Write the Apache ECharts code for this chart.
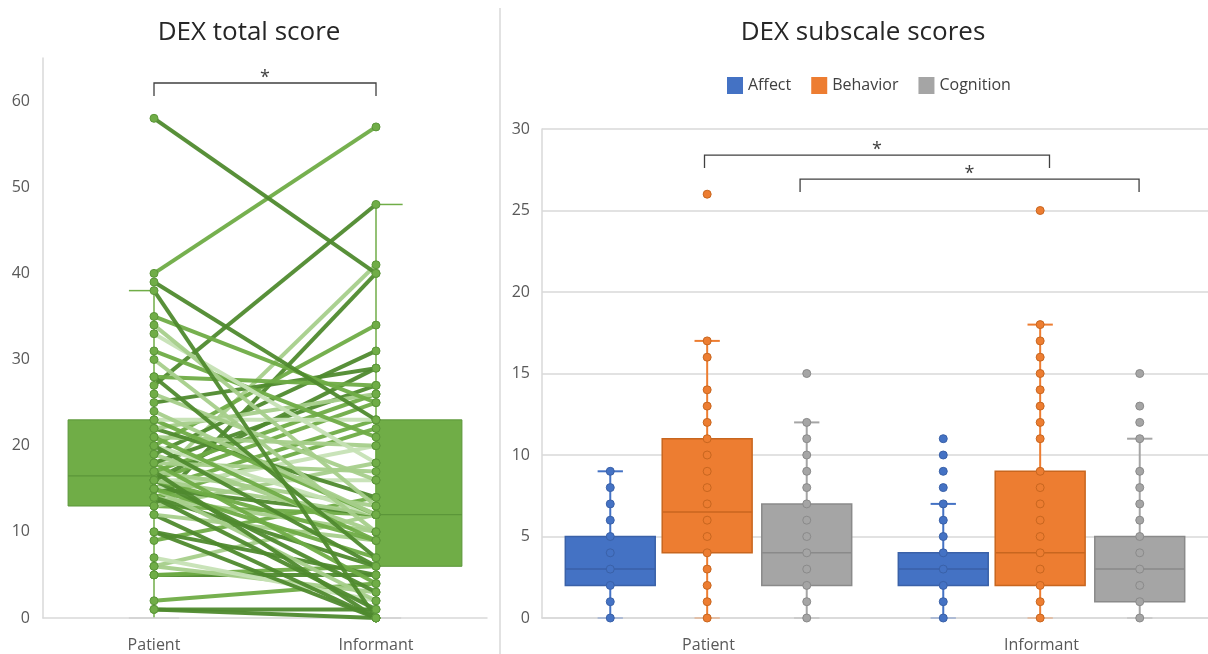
<!DOCTYPE html>
<html><head><meta charset="utf-8">
<script src="https://cdn.jsdelivr.net/npm/echarts@6/dist/echarts.min.js"></script>
<style>html,body{margin:0;padding:0;background:#fff}#c{width:1208px;height:654px}</style>
</head><body><div id="c"></div>
<script>
// ---------- data ----------
const groups = ['Patient', 'Informant'];
const subscales = ['Affect', 'Behavior', 'Cognition'];

// DEX total score, paired by participant
const patientTotal = [1,1,2,5,5,6,6,7,9,10,10,12,12,13,13,13,
  14,14,14,14,15,15,15,15,15,16,16,16,16,16,16,16,
  17,17,17,18,18,18,19,19,20,20,20,21,21,22,22,23,
  23,24,25,26,27,28,28,30,31,33,34,35,38,39,40,58];
const informantTotal = [1,0,4,5,6,3,12,2,14,0,5,0,9,40,12,18,
  1,22,10,6,23,2,12,20,7,41,25,3,16,9,12,29,
  13,0,26,4,17,27,10,31,34,12,6,20,9,14,26,12,
  23,12,29,16,48,27,7,10,21,18,13,25,0,23,57,40];
const lineShade = [0,0,1,0,1,2,2,3,1,0,0,0,2,0,1,2,
  0,1,2,0,1,2,0,3,1,2,1,0,3,1,2,0,
  2,0,1,1,2,0,2,0,1,3,0,2,1,0,2,1,
  3,2,0,2,0,1,0,2,1,3,2,1,0,0,1,0];
// box stats: [min, Q1, median, Q3, max] per group
const totalBoxPatient = [0, 13, 16.5, 23, 38];
const totalBoxInformant = [0, 6, 12, 23, 48];

// subscales box stats [min, Q1, median, Q3, max] (Patient, Informant)
const affectBox = [[0, 2, 3, 5, 9], [0, 2, 3, 4, 7]];
const behaviorBox = [[0, 4, 6.5, 11, 17], [0, 2, 4, 9, 18]];
const cognitionBox = [[0, 2, 4, 7, 12], [0, 1, 3, 5, 11]];
// subscale points
const affectPatient = [0,1,2,3,4,5,6,7,8,9];
const affectInformant = [0,1,2,3,4,5,6,7,8,9,10,11];
const behaviorPatient = [0,1,2,3,4,5,6,7,8,9,10,11,12,13,14,16,17,26];
const behaviorInformant = [0,1,2,3,4,5,6,7,8,9,11,12,13,14,15,16,17,18,25];
const cognitionPatient = [0,1,2,3,4,5,6,7,8,9,10,11,12,15];
const cognitionInformant = [0,1,2,3,4,5,6,7,8,9,11,12,13,15];

// significance brackets: [fromGroup, toGroup, topValue, bottomValue]
const totalBracket = [[0, 1, 62.1, 60.6]];
const subBrackets = [[0, 1, 28.4, 27.6], [0, 1, 26.93, 26.13]];

// ---------- styles / layout ----------
const FONT = '"Open Sans", "Noto Sans", sans-serif';
const GREEN = '#70AD47', GREEN_EDGE = '#5B9639';
const SHADES = ['#4F8A2E', '#6FAC46', '#A6CF8B', '#C6E1B5'];
const SUB_COL = [
  {fill: '#4472C4', edge: '#3A61A8'},
  {fill: '#ED7D31', edge: '#C8661F'},
  {fill: '#A5A5A5', edge: '#8A8A8A'}
];
const SUB_OFF = [-0.295, -0.004, 0.295];
const SUB_W = 0.27, SUB_CAP = 0.076;
const TOT_W = 0.387;
const TOT_CAP = [[-0.113, 0], [-0.02, 0.12]];
const subBracketOff = [[-0.012, 0.024], [0.275, 0.293]];

const chart = echarts.init(document.getElementById('c'));

function totalBoxRender(params, api) {
  const cat = api.value(0);
  const band = api.size([1, 0])[0];
  const cx = api.coord([cat, 0])[0];
  const y = i => api.coord([cat, api.value(i)])[1];
  const ymn = y(1), yq1 = y(2), ymd = y(3), yq3 = y(4), ymx = y(5);
  const w = TOT_W * band;
  const x0 = cat === 0 ? cx - w : cx;
  const cap = TOT_CAP[cat];
  return {type: 'group', children: [
    {type: 'rect', shape: {x: x0, y: yq3, width: w, height: yq1 - yq3}, style: {fill: GREEN, stroke: GREEN_EDGE, lineWidth: 1}},
    {type: 'line', shape: {x1: x0, y1: ymd, x2: x0 + w, y2: ymd}, style: {stroke: GREEN_EDGE, lineWidth: 1.2}},
    {type: 'line', shape: {x1: cx, y1: ymn, x2: cx, y2: ymx}, style: {stroke: GREEN, lineWidth: 1.5}},
    {type: 'line', shape: {x1: cx + cap[0] * band, y1: ymx, x2: cx + cap[1] * band, y2: ymx}, style: {stroke: GREEN, lineWidth: 1.5}},
    {type: 'line', shape: {x1: cx - 0.113 * band, y1: ymn, x2: cx + 0.113 * band, y2: ymn}, style: {stroke: '#D0D0D0', lineWidth: 1.5}}
  ]};
}

function pairRender(params, api) {
  const p0 = api.coord([0, api.value(1)]);
  const p1 = api.coord([1, api.value(2)]);
  return {type: 'line', shape: {x1: p0[0], y1: p0[1], x2: p1[0], y2: p1[1]},
    style: {stroke: SHADES[api.value(3)], lineWidth: 4, opacity: 0.95}};
}

function subBoxRender(k) {
  return function (params, api) {
    const cat = api.value(0);
    const band = api.size([1, 0])[0];
    const cx = api.coord([cat, 0])[0] + SUB_OFF[k] * band;
    const w = SUB_W * band, cw = SUB_CAP * band;
    const y = i => api.coord([cat, api.value(i)])[1];
    const ymn = y(1), yq1 = y(2), ymd = y(3), yq3 = y(4), ymx = y(5);
    const c = SUB_COL[k];
    return {type: 'group', children: [
      {type: 'line', shape: {x1: cx, y1: ymn, x2: cx, y2: yq1}, style: {stroke: c.fill, lineWidth: 2}},
      {type: 'line', shape: {x1: cx, y1: yq3, x2: cx, y2: ymx}, style: {stroke: c.fill, lineWidth: 2}},
      {type: 'line', shape: {x1: cx - cw / 2, y1: ymx, x2: cx + cw / 2, y2: ymx}, style: {stroke: c.fill, lineWidth: 2}},
      {type: 'line', shape: {x1: cx - cw / 2, y1: ymn, x2: cx + cw / 2, y2: ymn}, style: {stroke: c.fill, lineWidth: 2, opacity: 0.3}},
      {type: 'rect', shape: {x: cx - w / 2, y: yq3, width: w, height: yq1 - yq3}, style: {fill: c.fill, stroke: c.edge, lineWidth: 1.5}},
      {type: 'line', shape: {x1: cx - w / 2, y1: ymd, x2: cx + w / 2, y2: ymd}, style: {stroke: c.edge, lineWidth: 1.5}}
    ]};
  };
}

function subDotRender(k) {
  return function (params, api) {
    const cat = api.value(0);
    const band = api.size([1, 0])[0];
    const pt = api.coord([cat, api.value(1)]);
    const c = SUB_COL[k];
    return {type: 'circle', shape: {cx: pt[0] + SUB_OFF[k] * band, cy: pt[1], r: 4},
      style: {fill: c.fill, stroke: c.edge, lineWidth: 1}};
  };
}

function bracketRender(offsets) {
  return function (params, api) {
    const band = api.size([1, 0])[0];
    const off = offsets ? offsets[params.dataIndex] : [0, 0];
    const a = api.coord([api.value(0), api.value(2)]);
    const b = api.coord([api.value(1), api.value(3)]);
    const x1 = a[0] + off[0] * band, x2 = b[0] + off[1] * band;
    const yt = a[1], yb = b[1];
    return {type: 'group', children: [
      {type: 'polyline', shape: {points: [[x1, yb], [x1, yt], [x2, yt], [x2, yb]]}, style: {stroke: '#404040', lineWidth: 1.3, fill: 'none'}},
      {type: 'text', x: (x1 + x2) / 2, y: yt - 5, style: {text: '*', align: 'center', verticalAlign: 'middle', font: '18px ' + FONT, fill: '#404040'}}
    ]};
  };
}

const subBoxes = [affectBox, behaviorBox, cognitionBox];
const subPts = [[affectPatient, affectInformant], [behaviorPatient, behaviorInformant], [cognitionPatient, cognitionInformant]];

const series = [];
// left panel
series.push({type: 'custom', name: 'totalBox', xAxisIndex: 0, yAxisIndex: 0, z: 2,
  renderItem: totalBoxRender, encode: {x: 0, y: [1, 2, 3, 4, 5]},
  data: [[0].concat(totalBoxPatient), [1].concat(totalBoxInformant)]});
series.push({type: 'custom', name: 'pairs', xAxisIndex: 0, yAxisIndex: 0, z: 3,
  renderItem: pairRender, encode: {x: 0, y: [1, 2]},
  data: patientTotal.map((p, i) => [0, p, informantTotal[i], lineShade[i]])});
series.push({type: 'scatter', name: 'totalPts', xAxisIndex: 0, yAxisIndex: 0, z: 4,
  symbolSize: 8, itemStyle: {color: GREEN, borderColor: GREEN_EDGE, borderWidth: 1, opacity: 1},
  data: patientTotal.map(v => [0, v]).concat(informantTotal.map(v => [1, v]))});
series.push({type: 'custom', name: 'totalBracket', xAxisIndex: 0, yAxisIndex: 0, z: 5,
  renderItem: bracketRender(null), encode: {x: [0, 1], y: [2, 3]}, data: totalBracket});
// right panel
subscales.forEach((name, k) => {
  series.push({type: 'custom', name: name, xAxisIndex: 1, yAxisIndex: 1, z: 2,
    itemStyle: {color: SUB_COL[k].fill},
    renderItem: subBoxRender(k), encode: {x: 0, y: [1, 2, 3, 4, 5]},
    data: subBoxes[k].map((b, g) => [g].concat(b))});
});
subscales.forEach((name, k) => {
  series.push({type: 'custom', name: name, xAxisIndex: 1, yAxisIndex: 1, z: 4,
    itemStyle: {color: SUB_COL[k].fill},
    renderItem: subDotRender(k), encode: {x: 0, y: 1},
    data: subPts[k][0].map(v => [0, v]).concat(subPts[k][1].map(v => [1, v]))});
});
series.push({type: 'custom', name: 'subBracket', xAxisIndex: 1, yAxisIndex: 1, z: 5,
  renderItem: bracketRender(subBracketOff), encode: {x: [0, 1], y: [2, 3]}, data: subBrackets});

const axisLabelStyle = {fontSize: 16, color: '#595959', fontFamily: FONT};

chart.setOption({
  animation: false,
  backgroundColor: '#fff',
  grid: [
    {left: 43, top: 58, right: 721, bottom: 36},
    {left: 542, top: 129, right: -2, bottom: 36}
  ],
  xAxis: [
    {type: 'category', gridIndex: 0, data: groups, boundaryGap: true,
      axisLine: {show: true, lineStyle: {color: '#D9D9D9', width: 1.5}}, axisTick: {show: false},
      axisLabel: Object.assign({margin: 19}, axisLabelStyle), splitLine: {show: false}},
    {type: 'category', gridIndex: 1, data: groups, boundaryGap: true,
      axisLine: {show: true, lineStyle: {color: '#D9D9D9', width: 1.5}}, axisTick: {show: false},
      axisLabel: Object.assign({margin: 19}, axisLabelStyle), splitLine: {show: false}}
  ],
  yAxis: [
    {type: 'value', gridIndex: 0, min: 0, max: 65, interval: 10,
      axisLine: {show: true, lineStyle: {color: '#D9D9D9', width: 1.5}}, axisTick: {show: false},
      splitLine: {show: false},
      axisLabel: Object.assign({margin: 13, formatter: v => (v % 10 === 0 ? String(v) : '')}, axisLabelStyle)},
    {type: 'value', gridIndex: 1, min: 0, max: 30, interval: 5,
      axisLine: {show: true, lineStyle: {color: '#D9D9D9', width: 1.5}}, axisTick: {show: false},
      splitLine: {show: true, lineStyle: {color: '#D9D9D9', width: 1.5}},
      axisLabel: Object.assign({margin: 12}, axisLabelStyle)}
  ],
  legend: {
    data: subscales, left: 722, top: 72, icon: 'rect', itemWidth: 16, itemHeight: 17, itemGap: 20,
    textStyle: {fontSize: 16, color: '#404040', fontFamily: FONT}, selectedMode: false
  },
  graphic: [
    {type: 'line', shape: {x1: 500, y1: 8, x2: 500, y2: 654}, style: {stroke: '#D9D9D9', lineWidth: 1.5}, silent: true},
    {type: 'text', x: 249, y: 33, style: {text: 'DEX total score', align: 'center', verticalAlign: 'middle', font: '26px ' + FONT, fill: '#262626'}},
    {type: 'text', x: 863, y: 33, style: {text: 'DEX subscale scores', align: 'center', verticalAlign: 'middle', font: '26px ' + FONT, fill: '#262626'}}
  ],
  series: series
});
</script></body></html>
